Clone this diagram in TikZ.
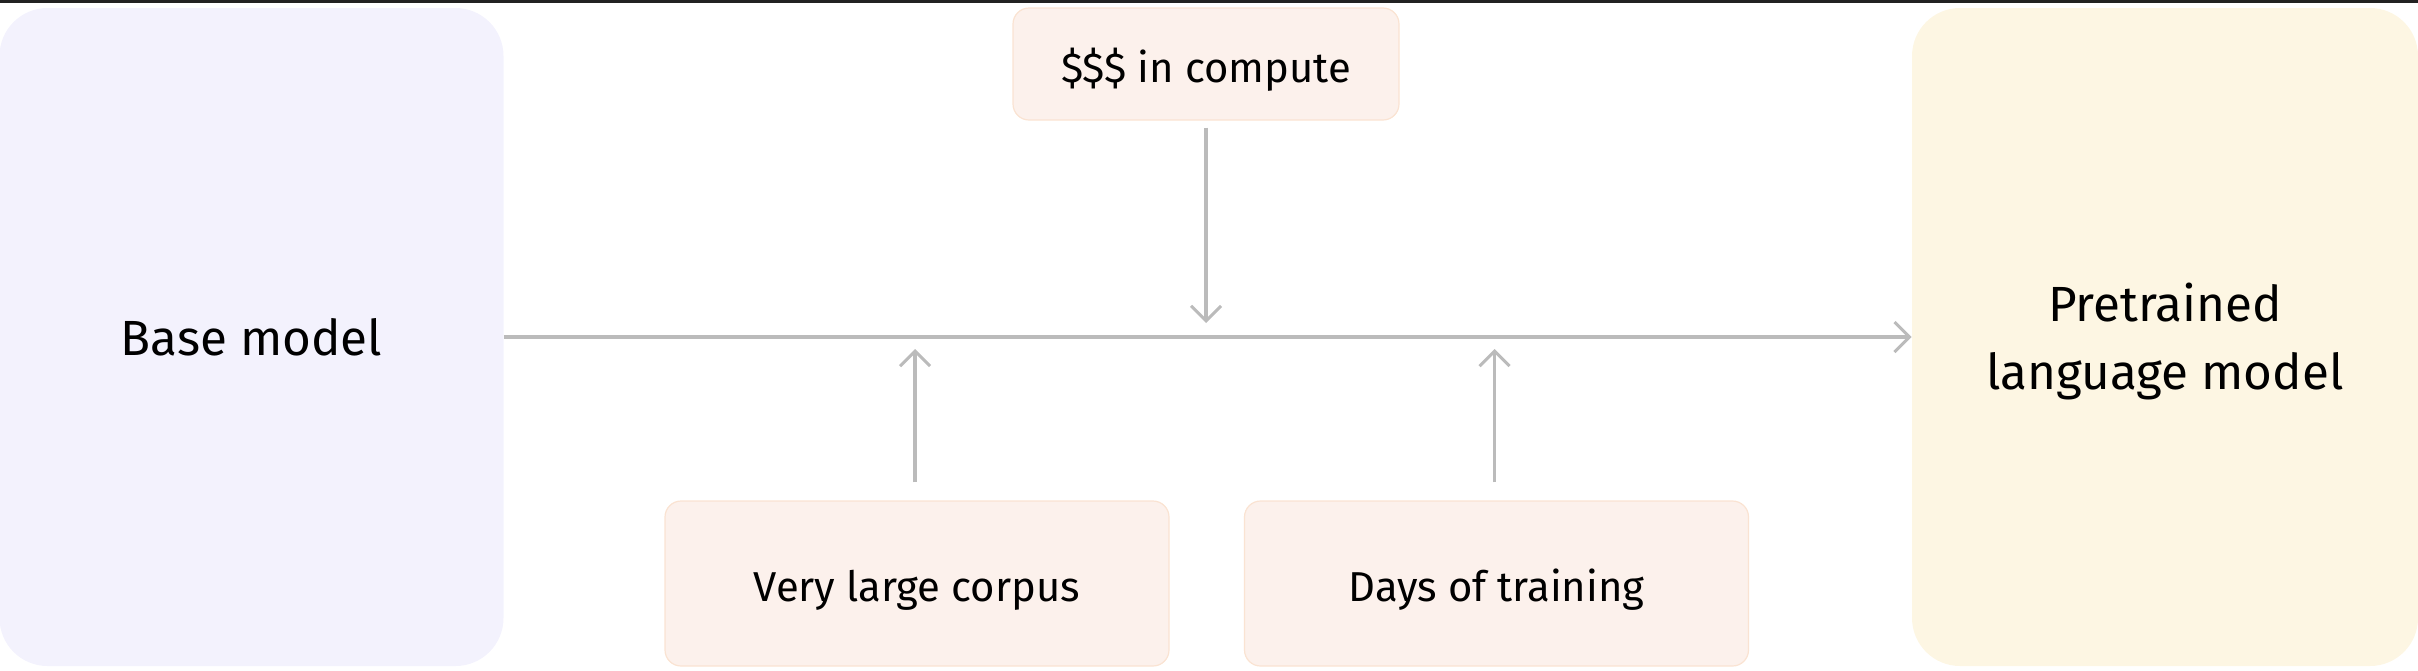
\documentclass[tikz,border=0pt]{standalone}
\usepackage{fontspec}
\setmainfont{Fira Sans}
\usetikzlibrary{arrows.meta}
\definecolor{lav}{HTML}{F3F2FD}
\definecolor{cream}{HTML}{FDF6E3}
\definecolor{peach}{HTML}{FCF1EC}
\definecolor{peachline}{HTML}{FAE3D2}
\definecolor{arrgray}{HTML}{BBBBBB}
\definecolor{topbar}{HTML}{222222}
\tikzset{
  bigbox/.style={rounded corners=24pt, inner sep=0pt, minimum width=252pt, minimum height=329pt, align=center, font=\fontsize{24.7}{34}\selectfont},
  smallbox/.style={draw=peachline, line width=0.6pt, fill=peach, rounded corners=8pt, inner sep=0pt, text height=18pt, text depth=0pt, font=\fontsize{20.9}{25}\selectfont},
  arr/.style={draw=arrgray, line width=1.6pt, -{Straight Barb[length=7.5pt,width=15pt,line width=1.5pt]}},
}
\begin{document}
\begin{tikzpicture}[x=0.5pt,y=-0.5pt]
\useasboundingbox (0,0) rectangle (2418,670);
\fill[topbar] (0,0) rectangle (2418,3);
\node[bigbox, fill=lav] (base) at (251.5,337) {Base model};
\node[bigbox, fill=cream, minimum width=253pt] (pre) at (2165,337) {\strut Pretrained\\language model};
\node[smallbox, minimum width=193pt, minimum height=56pt] (comp) at (1206,64) {\$\$\$ in compute};
\node[smallbox, minimum width=252pt, minimum height=82.5pt] (corp) at (917,583.5) {Very large corpus};
\node[smallbox, minimum width=252pt, minimum height=82.5pt] (days) at (1496.5,583.5) {Days of training};
\draw[arr, shorten >=0pt] (base.east) -- (pre.west);
\draw[arr, shorten <=3.5pt, shorten >=7pt] (comp.south) -- (comp.south |- base.east);
\draw[arr, shorten <=9pt, shorten >=6pt] ([xshift=-1pt]corp.north) -- ([xshift=-1pt]corp.north |- base.east);
\draw[arr, shorten <=9pt, shorten >=6pt] ([xshift=-1pt]days.north) -- ([xshift=-1pt]days.north |- base.east);
\end{tikzpicture}
\end{document}
